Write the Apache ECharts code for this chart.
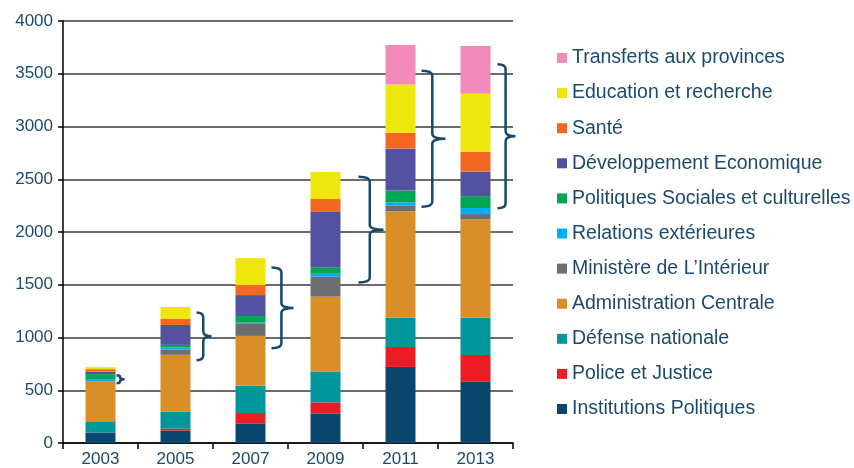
<html lang="fr">
<head>
    <meta charset="UTF-8">
    <title>Dépenses par secteur</title>
    <script src="https://cdn.jsdelivr.net/npm/echarts@6/dist/echarts.min.js"></script>
</head>
<style>
    html, body { margin: 0; padding: 0; background: #fff; }
    #container { width: 854px; height: 468px; }
</style>
<body>
<div id="container"></div>
<script>
    // années
    var years = ['2003', '2005', '2007', '2009', '2011', '2013'];

    // séries, du bas vers le haut de la pile
    var institutions = [100, 117, 186, 281, 721, 580];
    var police = [0, 19, 98, 104, 189, 255];
    var defense = [100, 161, 258, 293, 277, 353];
    var administration = [383, 539, 473, 709, 1008, 932];
    var interieur = [4, 50, 120, 189, 57, 50];
    var relations = [19, 19, 6, 28, 28, 57];
    var sociales = [47, 25, 63, 60, 113, 113];
    var developpement = [22, 189, 198, 526, 397, 233];
    var sante = [25, 57, 95, 123, 151, 189];
    var education = [19, 113, 255, 255, 457, 548];
    var transferts = [0, 0, 0, 0, 375, 454];

    var yTicks = [0, 500, 1000, 1500, 2000, 2500, 3000, 3500, 4000];

    // accolades : [année, bas, haut]
    var braces = [
        [0, 567, 643],
        [1, 784, 1238],
        [2, 898, 1663],
        [3, 1521, 2523],
        [4, 2240, 3528],
        [5, 2224, 3591]
    ];
    // écart depuis la barre et largeur de chaque accolade (px)
    var braceLayout = [[1, 8], [6, 15], [6, 22], [18, 25], [6, 24], [7, 18]];

    var names = [
        'Institutions Politiques', 'Police et Justice', 'Défense nationale',
        'Administration Centrale', 'Ministère de L\u2019Intérieur', 'Relations extérieures',
        'Politiques Sociales et culturelles', 'Développement Economique', 'Santé',
        'Education et recherche', 'Transferts aux provinces'
    ];
    var values = [institutions, police, defense, administration, interieur, relations,
        sociales, developpement, sante, education, transferts];
    var colors = ['#0b466e', '#ec1c24', '#00969a', '#d98f29', '#6d6e71', '#00aeef',
        '#00a651', '#5551a1', '#f26722', '#ede70d', '#f28bbb'];

    var textBlue = '#1c4a6e';
    var braceBlue = '#17496d';
    var barWidth = 30;

    var chart = echarts.init(document.getElementById('container'));

    var series = [];
    for (var i = 0; i < names.length; i++)
    {
        series.push({
            name: names[i],
            type: 'bar',
            stack: 'total',
            barWidth: barWidth,
            itemStyle: {color: colors[i]},
            data: values[i]
        });
    }

    series.push({
        type: 'custom',
        silent: true,
        z: 10,
        data: braces,
        renderItem: function (params, api)
        {
            var lay = braceLayout[params.dataIndex];
            var top = api.coord([api.value(0), api.value(2)]);
            var bot = api.coord([api.value(0), api.value(1)]);
            var x0 = top[0] + barWidth / 2 + lay[0];
            var x1 = x0 + lay[1] * 0.45;
            var x2 = x0 + lay[1];
            var y0 = top[1], y2 = bot[1], ym = (y0 + y2) / 2;
            var r = Math.min(5, (y2 - y0) / 4);
            var d = 'M' + x0 + ' ' + y0 +
                ' Q' + x1 + ' ' + y0 + ' ' + x1 + ' ' + (y0 + r) +
                ' L' + x1 + ' ' + (ym - r) +
                ' Q' + x1 + ' ' + ym + ' ' + x2 + ' ' + ym +
                ' Q' + x1 + ' ' + ym + ' ' + x1 + ' ' + (ym + r) +
                ' L' + x1 + ' ' + (y2 - r) +
                ' Q' + x1 + ' ' + y2 + ' ' + x0 + ' ' + y2;
            return {
                type: 'path',
                shape: {pathData: d},
                style: {stroke: braceBlue, lineWidth: 2.5, fill: null}
            };
        }
    });

    var option = {
        animation: false,
        textStyle: {fontFamily: 'Liberation Sans'},
        grid: {left: 63, right: 341, top: 21, bottom: 24},
        legend: {
            data: names.slice().reverse(),
            orient: 'vertical',
            left: 552,
            top: 43,
            itemWidth: 10,
            itemHeight: 10,
            itemGap: 15.1,
            icon: 'rect',
            selectedMode: false,
            textStyle: {color: textBlue, fontSize: 19.5, lineHeight: 20, fontFamily: 'Liberation Sans'}
        },
        xAxis: {
            type: 'category',
            data: years,
            axisLine: {lineStyle: {color: '#000', width: 1.5}},
            axisTick: {show: true, length: 6, lineStyle: {color: '#000', width: 1.5}},
            axisLabel: {color: textBlue, fontSize: 17, margin: 8}
        },
        yAxis: {
            type: 'value',
            min: yTicks[0],
            max: yTicks[yTicks.length - 1],
            interval: 500,
            axisLine: {show: true, lineStyle: {color: '#000', width: 1.5}},
            axisTick: {show: true, length: 5, lineStyle: {color: '#000', width: 1.5}},
            axisLabel: {
                color: textBlue, fontSize: 17, margin: 10,
                formatter: function (v) { return String(v); }
            },
            splitLine: {lineStyle: {color: '#3a3a3a', width: 1.5}}
        },
        series: series
    };

    chart.setOption(option);
</script>
</body>
</html>
